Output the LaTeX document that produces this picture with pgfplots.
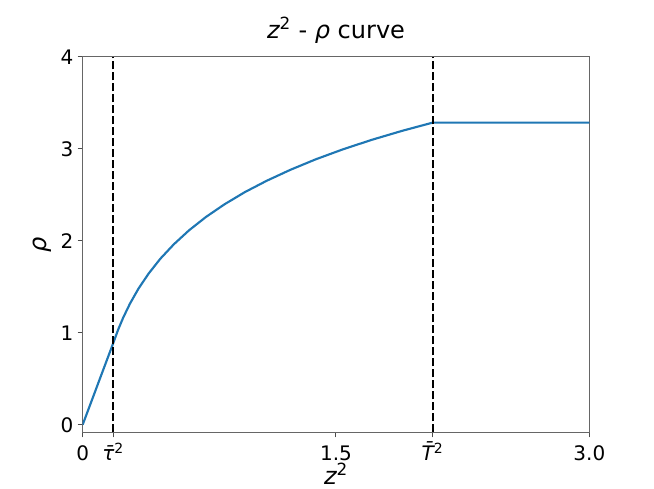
\documentclass[border=0pt]{standalone}
\usepackage{fontspec}
\setmainfont{DejaVu Sans}
\usepackage{pgfplots}
\pgfplotsset{compat=1.18}
\definecolor{mplblue}{HTML}{1F77B4}

% z^2 - rho curve
\pgfplotstableread{
x      y
0      0
0.181  0.888
0.21   1.034
0.24   1.165
0.28   1.317
0.33   1.479
0.39   1.643
0.46   1.806
0.54   1.963
0.63   2.115
0.73   2.260
0.84   2.398
0.96   2.530
1.09   2.654
1.23   2.773
1.38   2.887
1.54   2.995
1.71   3.098
1.89   3.196
2.072  3.286
3.0    3.286
}\rhocurve

\begin{document}
\begin{tikzpicture}[font=\fontsize{15}{18}\selectfont]
\useasboundingbox (-62pt,-42.4pt) rectangle (428.5pt,324.35pt);
\begin{axis}[
    scale only axis,
    width=380pt,
    height=281.6pt,
    xmin=0, xmax=3,
    ymin=-0.084, ymax=4,
    xtick={0,0.181,1.5,2.072,3},
    xticklabels={0,{\itshape τ^^^^0304}\textsuperscript{2},1.5,{\itshape T^^^^0304}\textsuperscript{2},3.0},
    ytick={0,1,2,3,4},
    /pgf/number format/assume math mode=true,
    tick align=outside,
    tick pos=left,
    major tick length=3.7pt,
    every tick/.style={black!70, line width=0.75pt},
    axis line style={black!60, line width=0.75pt},
    xticklabel style={anchor=base, yshift=-17pt, inner sep=0pt},
    yticklabel style={inner sep=0pt, xshift=-3pt},
    title={{\itshape z}\textsuperscript{2} - {\itshape ρ} curve},
    title style={at={(0.5,1)}, anchor=base, yshift=8.2pt, font=\fontsize{18}{21}\selectfont},
    xlabel={{\itshape z}\textsuperscript{2}},
    xlabel style={at={(axis description cs:0.5,0)}, anchor=base, yshift=-38.8pt, font=\fontsize{18}{21}\selectfont},
    ylabel={{\itshape ρ}},
    ylabel style={at={(axis description cs:-0.079,0.5)}, anchor=center, font=\fontsize{18}{21}\selectfont},
]
\addplot[mplblue, line width=1.6pt] table[x=x, y=y] {\rhocurve};
\addplot[black, line width=1.5pt, dash pattern=on 6pt off 2.25pt] coordinates {(0.181,-0.084) (0.181,4)};
\addplot[black, line width=1.5pt, dash pattern=on 6pt off 2.25pt] coordinates {(2.072,-0.084) (2.072,4)};
\end{axis}
\end{tikzpicture}
\end{document}
